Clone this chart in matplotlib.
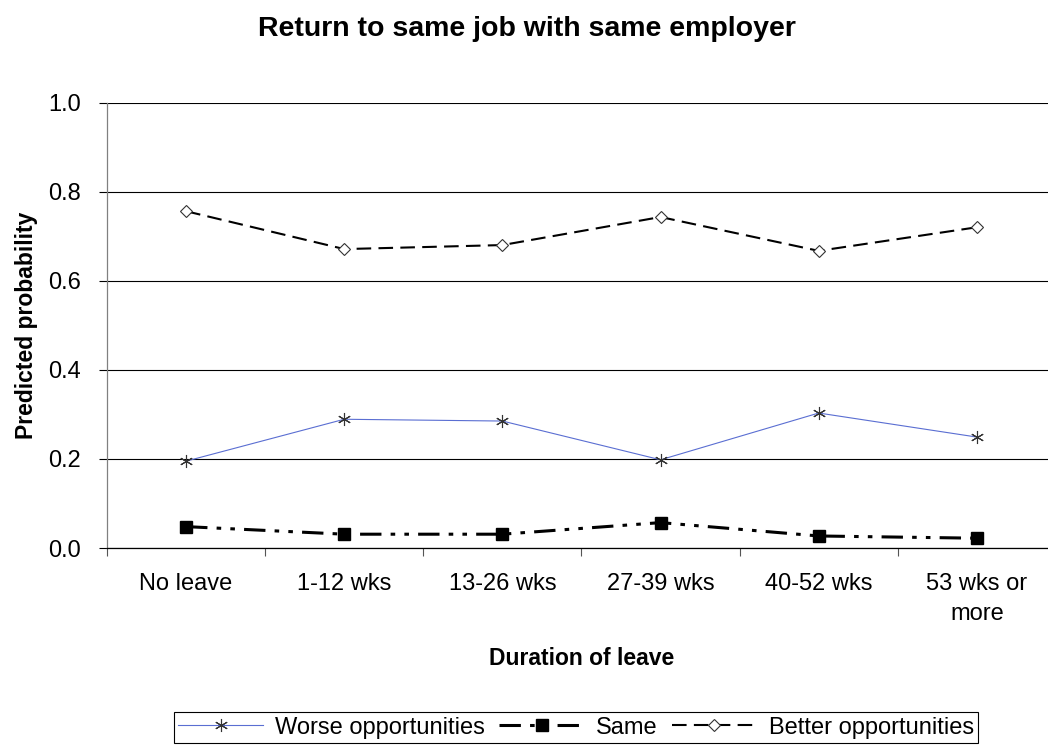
import matplotlib.pyplot as plt
from matplotlib.ticker import FixedLocator
import numpy as np

plt.rcParams['font.family'] = ['Liberation Sans', 'DejaVu Sans']

durations = ["No leave", "1-12 wks", "13-26 wks", "27-39 wks", "40-52 wks", "53 wks or\nmore"]
worse = [0.195, 0.289, 0.285, 0.198, 0.303, 0.249]
same = [0.048, 0.031, 0.031, 0.057, 0.027, 0.022]
better = [0.756, 0.671, 0.680, 0.743, 0.667, 0.720]
y_ticks = [0.0, 0.2, 0.4, 0.6, 0.8, 1.0]

fig = plt.figure(figsize=(10.48, 7.51), dpi=100)
ax = fig.add_axes([0.1021, 0.2703, 0.9055, 0.5932])

x = np.arange(len(durations))

ax.plot(x, worse, color="#5a6ed2", lw=0.8, marker=(6, 2, 0), ms=9.4,
        mec="#333333", mew=0.8, label="Worse opportunities", zorder=3)
ax.plot(x, same, color="black", lw=2.2, dashes=(7, 3, 1.5, 3, 1.5, 3),
        marker="s", ms=8.2, mfc="black", mec="black", label="Same", zorder=3)
ax.plot(x, better, color="black", lw=1.5, dashes=(7, 3.5),
        marker="D", ms=6, mfc="white", mec="#333333", mew=0.8,
        label="Better opportunities", zorder=3)

ax.set_xlim(-0.5, len(durations) - 0.5)
ax.set_ylim(0, 1.0)
ax.set_yticks(y_ticks)
ax.set_yticklabels([f"{v:.1f}" for v in y_ticks])
ax.yaxis.grid(True, color="black", lw=0.8)
ax.set_axisbelow(True)

ax.set_xticks(x)
ax.set_xticklabels(durations, linespacing=1.45)
ax.xaxis.set_minor_locator(FixedLocator(np.arange(len(durations) + 1) - 0.5))
ax.tick_params(axis="x", which="major", length=0, pad=18, labelsize=17)
ax.tick_params(axis="x", which="minor", length=6, width=0.8, color="#555555")
ax.tick_params(axis="y", length=5.5, width=0.8, pad=13, labelsize=17)

for side in ("top", "right"):
    ax.spines[side].set_visible(False)
ax.spines["left"].set_color("#808080")
ax.spines["left"].set_linewidth(0.9)
ax.spines["bottom"].set_color("black")
ax.spines["bottom"].set_linewidth(0.9)

ax.set_ylabel("Predicted probability", fontsize=16.5, fontweight="bold", labelpad=7.5)
ax.set_xlabel("Duration of leave", fontsize=16.5, fontweight="bold", labelpad=16)
fig.text(0.503, 0.962, "Return to same job with same employer", ha="center",
         va="center", fontsize=20.5, fontweight="bold")

leg = fig.legend(loc="upper center", bbox_to_anchor=(0.5496, 0.052), ncol=3,
                 fontsize=17, frameon=True, fancybox=False, edgecolor="black",
                 framealpha=1, borderpad=0.2, borderaxespad=0, numpoints=1,
                 handlelength=3.6, handletextpad=0.5, columnspacing=0.6)
leg.get_frame().set_linewidth(0.8)

fig.savefig("out.png", dpi=100)
